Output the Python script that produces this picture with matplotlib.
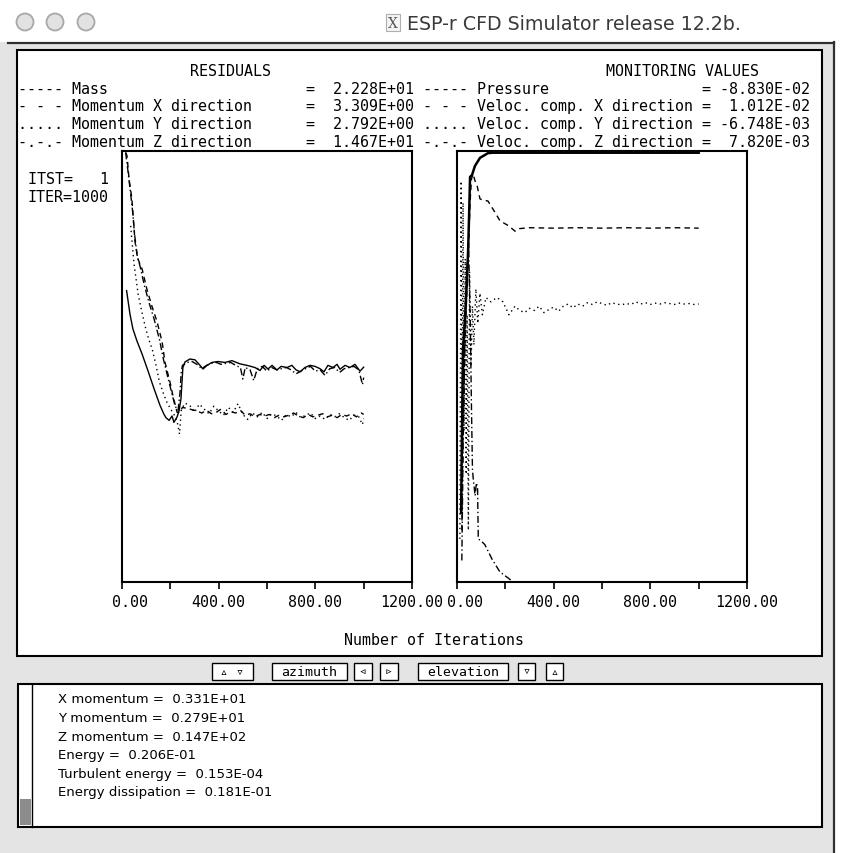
import matplotlib
matplotlib.use("Agg")
import matplotlib.pyplot as plt
import numpy as np
from matplotlib.patches import Rectangle, Circle
from matplotlib.transforms import ScaledTranslation

# ----- DATA -----

W, H = 849, 854
MONO = "DejaVu Sans Mono"

window_title = "ESP-r CFD Simulator release 12.2b."
prefixes = ["-----", "- - -", ".....", "-.-.-"]
residual_names = ["Mass", "Momentum X direction", "Momentum Y direction", "Momentum Z direction"]
residual_final = [2.228e1, 3.309e0, 2.792e0, 1.467e1]
monitor_names = ["Pressure", "Veloc. comp. X direction", "Veloc. comp. Y direction", "Veloc. comp. Z direction"]
monitor_final = [-8.830e-2, 1.012e-2, -6.748e-3, 7.820e-3]
itst, iter_count = 1, 1000

x_ticks = [0, 200, 400, 600, 800, 1000, 1200]
x_ticklabels = ["0.00", "", "400.00", "", "800.00", "", "1200.00"]

# residuals (left graph, log scale)
mass_it = [19, 33, 45, 62, 83, 108, 132, 157, 174, 182, 195, 207, 215, 228, 236, 244, 252, 261, 281, 302,
           323, 335, 352, 372, 397, 426, 455, 488, 517, 550, 571, 588, 604, 621, 641, 658, 683, 703, 720, 737,
           757, 778, 799, 819, 836, 852, 873, 890, 902, 923, 943, 964, 985, 1000]
mass_res = [490, 190, 105, 64, 38, 19, 9.5, 4.8, 3.3, 2.9, 2.6, 3.1, 2.4, 3.0, 3.8, 6.2, 22, 27.6, 31, 30,
            24, 20.7, 24, 27, 28, 27, 29, 25.5, 24, 22, 19.5, 24, 20.7, 24, 19.9, 23, 22, 24, 20, 18.5,
            22, 24, 23, 21, 18.5, 24, 22, 25, 20.5, 24, 22, 25, 19, 22.28]

mx_it = [15, 21, 29, 41, 46, 54, 66, 83, 103, 124, 145, 166, 178, 199, 211, 228, 240, 250, 270, 290,
         310, 330, 350, 370, 390, 410, 430, 450, 470, 490, 510, 530, 550, 570, 590, 610, 630, 650, 670, 690,
         710, 730, 750, 770, 790, 810, 830, 850, 870, 890, 910, 930, 950, 970, 990, 1000]
mx_res = [1.3e5, 1.13e5, 4.5e4, 2.0e4, 1.0e4, 3.5e3, 1.76e3, 1.18e3, 520, 260, 140, 62, 27, 12, 7.0, 3.6, 3.6, 4.4, 4.2, 4.0,
          3.8, 3.5, 3.9, 3.4, 3.6, 4.1, 3.3, 3.7, 3.5, 3.9, 3.2, 3.4, 3.0, 3.3, 3.1, 3.3, 2.9, 3.2, 3.0, 3.2,
          3.5, 3.1, 2.9, 3.3, 3.0, 3.2, 3.4, 3.0, 3.2, 2.9, 3.3, 3.1, 3.4, 3.0, 3.5, 3.31]

my_it = [36, 40, 45, 51, 58, 67, 80, 95, 110, 125, 140, 155, 170, 185, 200, 215, 228, 238, 245, 260,
         280, 300, 320, 340, 360, 380, 400, 420, 440, 460, 480, 500, 520, 540, 560, 580, 600, 620, 640, 660,
         680, 700, 720, 740, 760, 780, 800, 820, 840, 860, 880, 900, 920, 940, 960, 980, 995, 1000]
my_res = [6700, 4200, 2400, 1300, 800, 420, 230, 120, 70, 46, 25, 12.2, 8, 5.5, 4.2, 3.3, 2.5, 1.5, 3.9, 5.2,
          4.8, 3.6, 5.0, 4.1, 3.4, 4.6, 3.8, 3.2, 4.4, 3.6, 5.1, 3.3, 2.7, 3.5, 3.0, 3.6, 2.8, 3.4, 3.1, 2.6,
          3.3, 3.0, 3.6, 2.9, 3.2, 3.5, 2.8, 3.1, 2.7, 3.3, 3.0, 3.4, 2.9, 2.6, 3.2, 3.0, 2.2, 2.79]

mz_it = [15, 25, 35, 44, 52, 62, 75, 92, 112, 133, 155, 172, 192, 206, 220, 232, 240, 245, 250, 270,
         290, 310, 330, 350, 370, 390, 410, 430, 450, 470, 490, 500, 510, 530, 545, 560, 580, 600, 620, 640,
         660, 680, 700, 720, 740, 760, 780, 800, 820, 840, 860, 880, 900, 920, 940, 960, 980, 995, 1000]
mz_res = [1.3e5, 6.0e4, 2.6e4, 1.2e4, 4.8e3, 2.1e3, 1.3e3, 620, 300, 155, 68, 30, 13.5, 7.8, 4.6, 3.9, 8.0, 18, 24, 27,
          28, 25, 21, 24, 26, 27, 25, 26, 27, 24, 22, 13.8, 22, 20, 13, 21, 23, 19, 22, 20,
          21, 22, 20, 17, 19, 21, 23, 19, 20, 16, 21, 22, 18, 21, 22, 23, 20, 11, 14.67]

# monitoring values (right graph, scaled to the plot height)
p_it = [17, 20, 25, 35, 41, 46, 50, 54, 62, 74, 95, 128, 149, 1000]
p_val = [0.16, 0.32, 0.54, 0.63, 0.70, 0.77, 0.85, 0.94, 0.944, 0.965, 0.984, 0.995, 0.996, 0.996]

vx_it = [20, 25, 33, 41, 48, 54, 60, 66, 75, 83, 95, 108, 128, 149, 178, 215, 240, 260, 300, 400,
         500, 600, 700, 800, 900, 1000]
vx_val = [0.12, 0.35, 0.55, 0.68, 0.78, 0.88, 0.935, 0.947, 0.93, 0.92, 0.889, 0.886, 0.884, 0.865, 0.838, 0.826, 0.814, 0.82, 0.822, 0.821,
          0.822, 0.821, 0.822, 0.821, 0.822, 0.821]

vy_it = [12, 17, 21, 25, 29, 34, 38, 42, 47, 52, 58, 64, 70, 78, 86, 95, 105, 120, 140, 165,
         190, 215, 240, 260, 280, 300, 320, 340, 360, 380, 400, 420, 440, 460, 480, 500, 520, 540, 560, 580,
         600, 620, 640, 660, 680, 700, 720, 740, 760, 780, 800, 820, 840, 860, 880, 900, 920, 940, 960, 980, 1000]
vy_val = [0.10, 0.93, 0.30, 0.88, 0.35, 0.75, 0.25, 0.62, 0.12, 0.72, 0.50, 0.64, 0.55, 0.68, 0.60, 0.67, 0.62, 0.66, 0.65, 0.66,
          0.65, 0.62, 0.64, 0.63, 0.625, 0.635, 0.63, 0.64, 0.625, 0.632, 0.638, 0.628, 0.64, 0.645, 0.636, 0.645, 0.64, 0.648, 0.644, 0.65,
          0.646, 0.642, 0.648, 0.645, 0.643, 0.646, 0.644, 0.65, 0.645, 0.648, 0.644, 0.647, 0.645, 0.648, 0.646, 0.644, 0.647, 0.645, 0.646, 0.644, 0.645]

vz_it = [20, 25, 32, 40, 48, 55, 60, 64, 68, 75, 80, 85, 88, 100, 115, 145, 178, 210, 232]
vz_val = [0.05, 0.30, 0.55, 0.72, 0.78, 0.60, 0.40, 0.26, 0.235, 0.20, 0.23, 0.22, 0.10, 0.095, 0.087, 0.053, 0.023, 0.01, 0.0]

output_lines = [
    "X momentum =  0.331E+01",
    "Y momentum =  0.279E+01",
    "Z momentum =  0.147E+02",
    "Energy =  0.206E-01",
    "Turbulent energy =  0.153E-04",
    "Energy dissipation =  0.181E-01",
]
buttons = [("\u25b5 \u25bf", 212, 253), ("azimuth", 272, 347), ("\u25c3", 354, 372), ("\u25b9", 380, 398),
           ("elevation", 418, 508), ("\u25bf", 518, 535), ("\u25b5", 546, 563)]

styles = ["-", (0, (4, 3)), (0, (1, 2.5)), (0, (5, 2, 1, 2))]
MONO_SIZE = 10.8


def axes_rect(x0, y0, x1, y1):
    """pixel box (top-left origin) to figure fraction"""
    return [x0 / W, 1 - y1 / H, (x1 - x0) / W, (y1 - y0) / H]


# ----- FIGURE / WINDOW -----

fig = plt.figure(figsize=(W / 100, H / 100), dpi=100)
bg = fig.add_axes([0, 0, 1, 1], zorder=0)
bg.axis("off")

bg.add_patch(Rectangle((0, 0), W, H, fc="#ffffff", ec="none"))
grad = np.linspace(0.95, 0.84, 60)[:, None]
bg.imshow(grad, extent=(0, W, 43, 8), cmap="gray", vmin=0, vmax=1, aspect="auto")
bg.add_patch(Rectangle((0, 43), 835, H - 43, fc="#e4e4e4", ec="none"))
bg.plot([8, 834], [43.5, 43.5], color="#303030", lw=1.6)
bg.plot([834, 834], [43, H], color="#303030", lw=1.6)

for cx in [25, 55, 86]:
    bg.add_patch(Circle((cx, 23), 8.5, fc="#e2e2e2", ec="#a8a8a8", lw=1.3))
bg.add_patch(Rectangle((386, 15), 14, 17, fc="#f4f4f4", ec="#b0b0b0", lw=0.8))
bg.text(393, 24, "X", ha="center", va="center", fontsize=10, family="DejaVu Serif", color="#555555")
bg.text(407, 24, window_title, ha="left", va="center", fontsize=13.7, color="#3a3a3a", family="DejaVu Sans")

# main graphics panel
bg.add_patch(Rectangle((17, 51), 805, 606, fc="white", ec="black", lw=1.5))

cw = 9.05
bg.text(18 + 19 * cw, 71, "RESIDUALS", family=MONO, fontsize=MONO_SIZE, va="center")
bg.text(18 + 65 * cw, 71, "MONITORING VALUES", family=MONO, fontsize=MONO_SIZE, va="center")
for i in range(4):
    left = f"{prefixes[i]} {residual_names[i]}"
    right = f"{prefixes[i]} {monitor_names[i]}"
    row = f"{left:<32}=  {residual_final[i]:.3E} {right:<31}= {monitor_final[i]: .3E}"
    bg.text(18, 89 + 18 * i, row, family=MONO, fontsize=MONO_SIZE, va="center")

bg.text(28, 180, f"ITST={itst:>4}", family=MONO, fontsize=MONO_SIZE, va="center")
bg.text(28, 197, f"ITER={iter_count:>4}", family=MONO, fontsize=MONO_SIZE, va="center")
bg.text(434, 641, "Number of Iterations", family=MONO, fontsize=MONO_SIZE, va="center", ha="center")

# buttons
for label, x0, x1 in buttons:
    bg.add_patch(Rectangle((x0, 664), x1 - x0, 17, fc="white", ec="black", lw=1.0))
    bg.text((x0 + x1) / 2, 672.5, label, family=MONO, fontsize=9.5, ha="center", va="center")

# text output panel
bg.add_patch(Rectangle((18, 685), 804, 143, fc="white", ec="black", lw=1.5))
bg.plot([32, 32], [685, 828], color="black", lw=1.0)
bg.add_patch(Rectangle((20, 800), 11, 26, fc="#8c8c8c", ec="none"))
for i, line in enumerate(output_lines):
    bg.text(58, 700 + 18.6 * i, line, family="DejaVu Sans", fontsize=9.5, va="center")

bg.set_xlim(0, W)
bg.set_ylim(H, 0)

# ----- GRAPHS -----

ax1 = fig.add_axes(axes_rect(122, 152, 412, 583), zorder=2)
ax2 = fig.add_axes(axes_rect(457, 152, 747, 583), zorder=2)

for it, res, ls in zip([mass_it, mx_it, my_it, mz_it], [mass_res, mx_res, my_res, mz_res], styles):
    ax1.plot(it, res, color="black", lw=1.0, ls=ls)
ax1.set_yscale("log")
ax1.set_ylim(10 ** -2.42, 10 ** 5.14)

for it, val, ls in zip([p_it, vx_it, vy_it, vz_it], [p_val, vx_val, vy_val, vz_val], styles):
    lw = 1.8 if ls == "-" else 1.0
    ax2.plot(it, val, color="black", lw=lw, ls=ls)
ax2.set_ylim(0, 1)

for ax in (ax1, ax2):
    ax.set_xlim(0, 1200)
    ax.set_xticks(x_ticks)
    ax.set_xticklabels(x_ticklabels, family=MONO, fontsize=MONO_SIZE)
    ax.tick_params(axis="x", direction="out", length=5, width=1.2, pad=4)
    ax.tick_params(axis="y", which="both", left=False, labelleft=False)
    for side in ["top", "right", "bottom", "left"]:
        ax.spines[side].set_linewidth(1.5)
    first = ax.get_xticklabels()[0]
    first.set_transform(first.get_transform() + ScaledTranslation(0.08, 0, fig.dpi_scale_trans))

fig.savefig("out.png", dpi=100)
